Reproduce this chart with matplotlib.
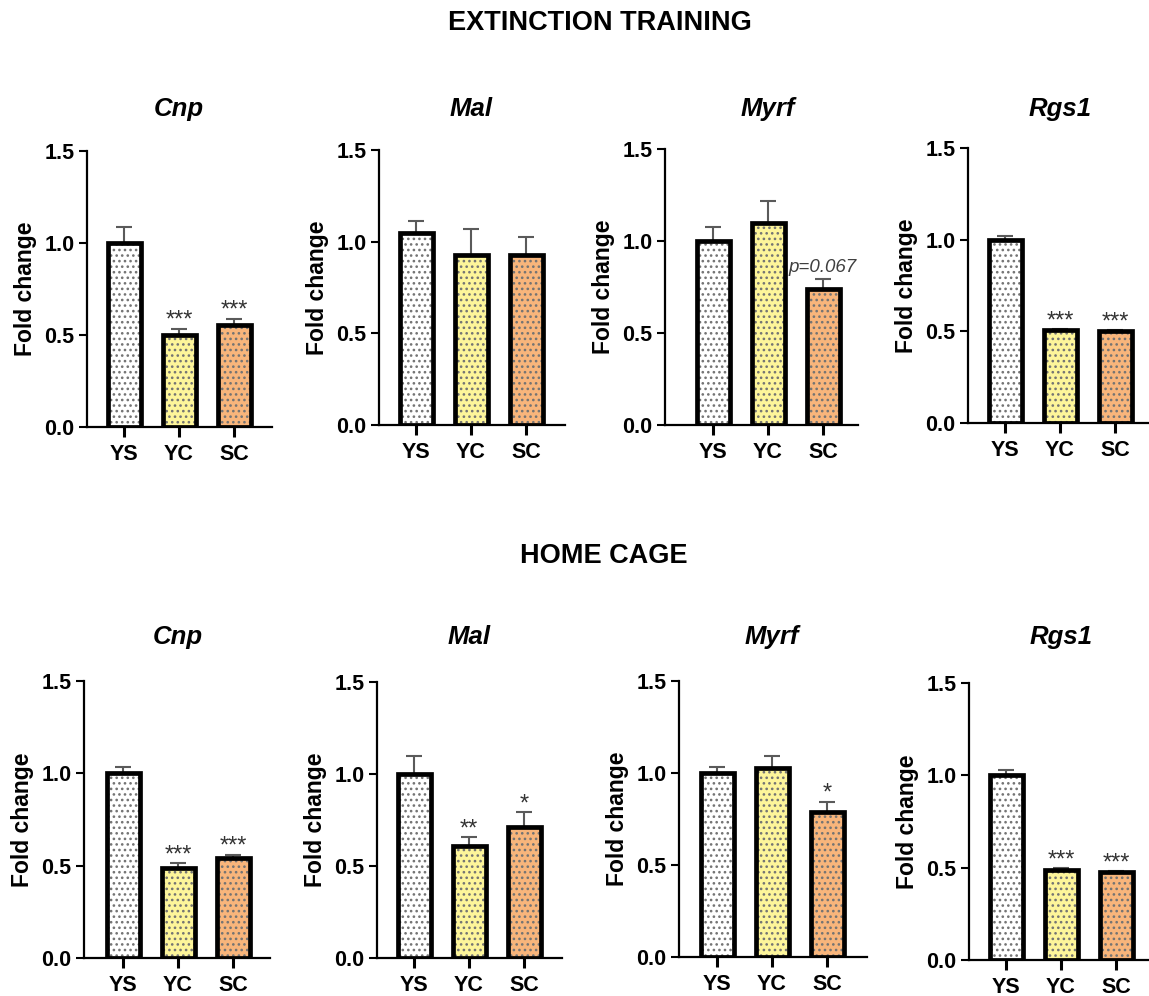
import numpy as np
import matplotlib
matplotlib.use("Agg")
import matplotlib.pyplot as plt

# ─── Data ─────────────────────────────────────────────────────────────────────
GROUPS = ["YS", "YC", "SC"]
GENES = ["Cnp", "Mal", "Myrf", "Rgs1"]

# Extinction training: mean fold change and SEM per gene (YS, YC, SC)
ext_mean = {
    "Cnp":  [1.00, 0.50, 0.555],
    "Mal":  [1.045, 0.925, 0.925],
    "Myrf": [1.00, 1.10, 0.74],
    "Rgs1": [1.00, 0.505, 0.50],
}
ext_sem = {
    "Cnp":  [0.085, 0.035, 0.032],
    "Mal":  [0.065, 0.142, 0.103],
    "Myrf": [0.078, 0.115, 0.056],
    "Rgs1": [0.018, 0.006, 0.006],
}
ext_marks = {
    "Cnp":  ["", "***", "***"],
    "Mal":  ["", "", ""],
    "Myrf": ["", "", "p=0.067"],
    "Rgs1": ["", "***", "***"],
}

# Home cage
home_mean = {
    "Cnp":  [1.00, 0.485, 0.543],
    "Mal":  [1.00, 0.61, 0.71],
    "Myrf": [1.00, 1.025, 0.79],
    "Rgs1": [1.00, 0.49, 0.475],
}
home_sem = {
    "Cnp":  [0.032, 0.028, 0.015],
    "Mal":  [0.10, 0.045, 0.082],
    "Myrf": [0.030, 0.065, 0.052],
    "Rgs1": [0.028, 0.006, 0.006],
}
home_marks = {
    "Cnp":  ["", "***", "***"],
    "Mal":  ["", "**", "*"],
    "Myrf": ["", "", "*"],
    "Rgs1": ["", "***", "***"],
}

# ─── Style ────────────────────────────────────────────────────────────────────
FILLS = ["#FFFFFF", "#FDF59A", "#F8B57B"]
DOT_COLOR = "#737373"
ERR_COLOR = "#5a5a5a"
FONT = ["Liberation Sans", "DejaVu Sans"]

plt.rcParams.update({
    "font.family": FONT,
    "hatch.linewidth": 1.1,
})

W, H = 1149, 996
fig = plt.figure(figsize=(W / 100, H / 100), dpi=100)

# pixel layout: (axis left, width, offset of first bar, top, bottom)
TOP_BOXES = [(87, 185, 37, 151, 427), (379, 186, 37, 150, 425),
             (665, 193, 48, 149, 425), (968, 185, 37, 148, 423)]
BOT_BOXES = [(84, 186, 39, 681, 958), (377, 185, 37, 682, 958),
             (679, 188, 38, 681, 957), (969, 185, 37, 683, 960)]
SPACING = 55.0  # px between bar centres


def draw_panel(box, gene, means, sems, marks, title_y):
    left, width, off, top, bottom = box
    ax = fig.add_axes([left / W, 1 - bottom / H, width / W, (bottom - top) / H])
    x = np.arange(len(GROUPS))

    ax.errorbar(x, means, yerr=[np.zeros(len(x)), sems], fmt="none",
                ecolor=ERR_COLOR, elinewidth=1.5, capsize=6, capthick=1.5,
                zorder=1)
    # fill + dots (hatch takes the edge colour, so draw edges separately)
    ax.bar(x, means, width=0.6, color=FILLS, edgecolor=DOT_COLOR,
           linewidth=0, hatch="...", zorder=2)
    ax.bar(x, means, width=0.6, facecolor="none", edgecolor="black",
           linewidth=3.4, zorder=3)

    for i, m in enumerate(marks):
        if not m:
            continue
        top_val = means[i] + sems[i]
        if m.startswith("p="):
            ax.annotate(m, xy=(i, top_val), xytext=(0, 5), textcoords="offset points",
                        ha="center", va="baseline", fontsize=13.5, style="italic",
                        color="#404040")
        else:
            ax.annotate(m, xy=(i, top_val), xytext=(0, 1.5), textcoords="offset points",
                        ha="center", va="baseline", fontsize=17, color="#333333")

    ax.set_xlim(-off / SPACING, (width - off) / SPACING)
    ax.set_ylim(0, 1.5)
    ax.set_yticks([0.0, 0.5, 1.0, 1.5])
    ax.set_yticklabels(["0.0", "0.5", "1.0", "1.5"])
    ax.set_xticks(x)
    ax.set_xticklabels(GROUPS)
    for s in ["top", "right"]:
        ax.spines[s].set_visible(False)
    for s in ["left", "bottom"]:
        ax.spines[s].set_linewidth(1.6)
    ax.tick_params(axis="y", length=6, width=1.5, pad=3, labelsize=15.5)
    ax.tick_params(axis="x", length=7, width=2.2, pad=5, labelsize=15.5)
    for lab in ax.get_xticklabels() + ax.get_yticklabels():
        lab.set_fontweight("bold")
    ax.set_ylabel("Fold change", fontsize=16.5, fontweight="bold", labelpad=5)

    fig.text((left + off + SPACING) / W, 1 - title_y / H, gene, ha="center",
             va="center", fontsize=18.5, fontweight="bold", style="italic")
    return ax


for box, gene in zip(TOP_BOXES, GENES):
    draw_panel(box, gene, ext_mean[gene], ext_sem[gene], ext_marks[gene], 109)
for box, gene in zip(BOT_BOXES, GENES):
    draw_panel(box, gene, home_mean[gene], home_sem[gene], home_marks[gene], 637)

fig.text(600 / W, 1 - 23 / H, "EXTINCTION TRAINING", ha="center", va="center",
         fontsize=19.5, fontweight="bold")
fig.text(604 / W, 1 - 556 / H, "HOME CAGE", ha="center", va="center",
         fontsize=19.5, fontweight="bold")

fig.savefig("out.png", dpi=100, facecolor="white")
